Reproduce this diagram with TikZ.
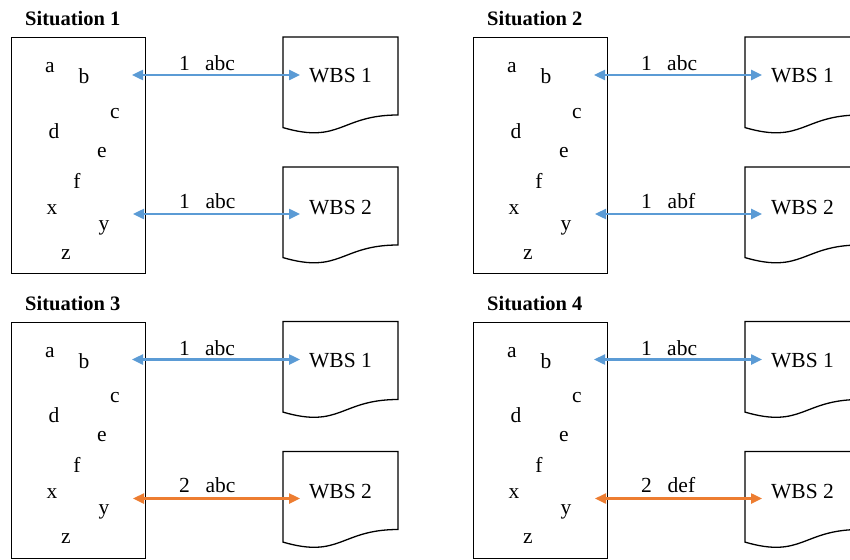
\documentclass[tikz,border=0pt]{standalone}
\usepackage{fontspec}
\setmainfont{Liberation Serif}
\usetikzlibrary{arrows.meta}
\definecolor{linkblue}{HTML}{5B9BD5}
\definecolor{linkorange}{HTML}{ED7D31}
\tikzset{
  boxline/.style={draw=black, line width=1.3pt},
  txt/.style={inner sep=0pt, font=\fontsize{21.5}{25}\selectfont, anchor=base},
  titletxt/.style={inner sep=0pt, font=\fontsize{20.5}{25}\selectfont\bfseries, anchor=base west},
  link/.style={line width=2.4pt, {Triangle[length=11pt,width=10pt]}-{Triangle[length=11pt,width=10pt]}},
}
% #1 id, #2 dx, #3 dy, #4 situation number, #5 second link number,
% #6 second link text, #7 second link colour
\newcommand\situation[7]{%
\begin{scope}[shift={(#2,#3)}]
  \node[titletxt] (#1title) at (25,26) {Situation #4};
  % element box
  \node[boxline, inner sep=0pt, minimum width=134pt, minimum height=236pt,
        anchor=north west] (#1box) at (11,37) {};
  \node[txt] (#1a) at (50,73) {a};
  \node[txt] (#1b) at (84,84) {b};
  \node[txt] (#1c) at (115,118) {c};
  \node[txt] (#1d) at (54,138) {d};
  \node[txt] (#1e) at (102,157) {e};
  \node[txt] (#1f) at (77,188) {f};
  \node[txt] (#1x) at (52,214) {x};
  \node[txt] (#1y) at (104,230) {y};
  \node[txt] (#1z) at (66,259) {z};
  % WBS documents
  \draw[boxline] (283,37) -- (398,37) -- (398,115)
    .. controls (340.5,115) and (340.5,144.4) .. (283,127.6) -- cycle;
  \node[txt] (#1w1) at (340.5,83) {WBS 1};
  \draw[boxline] (283,167) -- (398,167) -- (398,245)
    .. controls (340.5,245) and (340.5,274.4) .. (283,257.6) -- cycle;
  \node[txt] (#1w2) at (340.5,214) {WBS 2};
  % links
  \coordinate (#1l1) at (132,75);
  \coordinate (#1r1) at (300,75);
  \coordinate (#1l2) at (133,214);
  \coordinate (#1r2) at (300,214);
  \draw[link, linkblue] (#1l1) -- (#1r1);
  \draw[link, #7] (#1l2) -- (#1r2);
  \node[txt, anchor=base west] (#1n1) at (179,71) {1};
  \node[txt, anchor=base west] (#1t1) at (205,71) {abc};
  \node[txt, anchor=base west] (#1n2) at (179,208) {#5};
  \node[txt, anchor=base west] (#1t2) at (205.5,208) {#6};
\end{scope}}

\begin{document}
\begin{tikzpicture}[x=1pt, y=-1pt]
  \useasboundingbox (0,0) rectangle (850,559);
  \clip (0,0) rectangle (850,559);
  \situation{sa}{0}{0}{1}{1}{abc}{linkblue}
  \situation{sb}{462}{0}{2}{1}{abf}{linkblue}
  \situation{sc}{0}{284.5}{3}{2}{abc}{linkorange}
  \situation{sd}{462}{284.5}{4}{2}{def}{linkorange}
\end{tikzpicture}
\end{document}
